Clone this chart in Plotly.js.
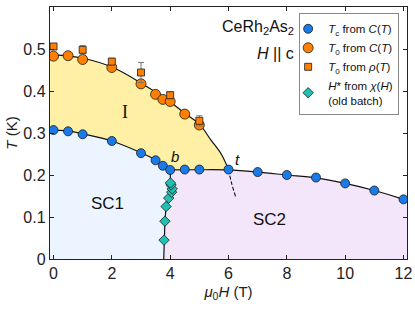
<!DOCTYPE html>
<html><head><meta charset="utf-8">
<script src="https://cdn.plot.ly/plotly-3.0.1.min.js"></script>
<style>html,body{margin:0;padding:0;background:#fff}#plot{width:415px;height:312px}</style>
</head><body><div id="plot"></div>
<script>
// ---- data ----
const tcH = [0, 0.5, 1, 2, 3, 3.5, 3.75, 4, 4.5, 5, 6, 7, 8, 9, 10, 11, 12];
const tcT = [0.307, 0.304, 0.297, 0.281, 0.252, 0.235, 0.222, 0.212, 0.213, 0.213, 0.213, 0.207, 0.200, 0.194, 0.180, 0.163, 0.142];

const t0cH = [0, 0.5, 1, 2, 3, 3.5, 3.75, 4, 4.5, 5];
const t0cT = [0.483, 0.484, 0.475, 0.456, 0.417, 0.392, 0.380, 0.375, 0.345, 0.319];

const t0rH = [0, 1, 2, 3, 4, 5];
const t0rT = [0.506, 0.498, 0.470, 0.444, 0.390, 0.329];
const t0rErr = [0.006, 0.010, 0.008, 0.024, 0.008, 0.012];

const hsH = [3.79, 3.82, 3.86, 3.95, 4.05, 4.07, 4.03, 4.01];
const hsT = [0.045, 0.090, 0.125, 0.145, 0.159, 0.167, 0.176, 0.181];

// guide lines
const t0LineH = [-0.2, 0, 1, 2, 3, 4, 4.5, 5, 5.4, 5.75, 6];
const t0LineT = [0.486, 0.486, 0.478, 0.457, 0.419, 0.374, 0.347, 0.321, 0.283, 0.250, 0.213];
const tcLeftH = [-0.2, 0, 0.5, 1, 2, 3, 3.5, 3.75, 4];
const tcLeftT = [0.307, 0.307, 0.305, 0.298, 0.281, 0.253, 0.236, 0.224, 0.212];
const tcRightH = [4, 5, 6, 7, 8, 9, 10, 11, 12, 12.2];
const tcRightT = [0.212, 0.2125, 0.212, 0.207, 0.200, 0.193, 0.180, 0.163, 0.142, 0.137];
const bndH = [3.78, 3.79, 3.82, 3.86, 3.95, 4.05, 4.07, 4.03, 4.01, 4.0];
const bndT = [0, 0.045, 0.090, 0.125, 0.145, 0.159, 0.167, 0.176, 0.181, 0.212];
const wedgeH = [3.78, 3.79, 3.82, 3.86, 3.95, 4.0, 4.0];
const wedgeT = [0, 0.045, 0.090, 0.125, 0.145, 0.150, 0];
const dashH = [6.0, 6.1, 6.24];
const dashT = [0.213, 0.182, 0.149];

// ---- styles ----
const YEL = '#FFF0A6', BLU = '#ECF5FF', PUR = '#F3E6FB';
const cBlue = '#1a7ae8', cOrange = '#ff8000', cTeal = '#22c0b4', edge = '#1a1a1a';
const fillBase = {mode: 'lines', hoverinfo: 'skip', showlegend: false};
const lineBase = {mode: 'lines', hoverinfo: 'skip', showlegend: false};

const traces = [
  Object.assign({x: t0LineH, y: t0LineT, fill: 'tozeroy', fillcolor: YEL, line: {width: 0, shape: 'spline'}}, fillBase),
  Object.assign({x: tcRightH, y: tcRightT, fill: 'tozeroy', fillcolor: PUR, line: {width: 0, shape: 'spline'}}, fillBase),
  Object.assign({x: tcLeftH, y: tcLeftT, fill: 'tozeroy', fillcolor: BLU, line: {width: 0, shape: 'spline'}}, fillBase),
  Object.assign({x: bndH, y: bndT, fill: 'tozerox', fillcolor: BLU, line: {width: 0}}, fillBase),
  Object.assign({x: wedgeH, y: wedgeT, fill: 'toself', fillcolor: PUR, line: {width: 0}}, fillBase),
  Object.assign({x: t0LineH, y: t0LineT, line: {color: '#111', width: 1.2, shape: 'spline'}}, lineBase),
  Object.assign({x: tcLeftH, y: tcLeftT, line: {color: '#111', width: 1.2, shape: 'spline'}}, lineBase),
  Object.assign({x: tcRightH, y: tcRightT, line: {color: '#111', width: 1.2, shape: 'spline'}}, lineBase),
  Object.assign({x: bndH, y: bndT, line: {color: '#111', width: 1.2}}, lineBase),
  Object.assign({x: dashH, y: dashT, line: {color: '#111', width: 1.1, dash: '4px,2px', shape: 'spline'}}, lineBase),
  {x: tcH, y: tcT, mode: 'markers', name: '<i>T</i><sub>c</sub> from <i>C</i>(<i>T</i>)',
   marker: {symbol: 'circle', size: 9, color: cBlue, line: {color: edge, width: 0.8}}, hoverinfo: 'skip'},
  {x: t0cH, y: t0cT, mode: 'markers', name: '<i>T</i><sub>0</sub> from <i>C</i>(<i>T</i>)',
   marker: {symbol: 'circle', size: 10, color: cOrange, line: {color: edge, width: 0.8}}, hoverinfo: 'skip'},
  {x: t0rH, y: t0rT, mode: 'markers', name: '<i>T</i><sub>0</sub> from <i>ρ</i>(<i>T</i>)',
   error_y: {type: 'data', array: t0rErr, visible: true, color: '#777', thickness: 1, width: 3},
   marker: {symbol: 'square', size: 7, color: cOrange, line: {color: edge, width: 0.8}}, hoverinfo: 'skip'},
  {x: hsH, y: hsT, mode: 'markers', name: '<i>H</i>* from <i>χ</i>(<i>H</i>)<br>(old batch)',
   marker: {symbol: 'diamond', size: 8, color: cTeal, line: {color: edge, width: 0.8}}, hoverinfo: 'skip'}
];

const FONT = 'Liberation Sans, Arial, sans-serif';
const layout = {
  width: 415, height: 312,
  margin: {l: 50, r: 8, t: 7, b: 53},
  paper_bgcolor: '#fff', plot_bgcolor: '#fff',
  font: {family: FONT, size: 16, color: '#222'},
  showlegend: true,
  legend: {x: 0.978, y: 0.975, xanchor: 'right', yanchor: 'top', bgcolor: '#fff',
           bordercolor: '#888', borderwidth: 1, font: {size: 11.5, color: '#111'},
           traceorder: 'normal', tracegroupgap: 0, itemwidth: 30, indentation: -12},
  xaxis: {range: [-0.12, 12.12], tickvals: [0, 2, 4, 6, 8, 10, 12], ticks: 'inside', ticklen: 4,
          showline: true, mirror: 'ticks', linecolor: '#222', linewidth: 1.2, tickcolor: '#222',
          showgrid: false, zeroline: false, fixedrange: true,
          title: {text: '<i>μ</i><sub>0</sub><i>H</i> (T)', font: {size: 15}, standoff: 5}},
  yaxis: {range: [0, 0.6], tickvals: [0, 0.1, 0.2, 0.3, 0.4, 0.5, 0.6], ticktext: ['0', '0.1', '0.2', '0.3', '0.4', '0.5', '0.6'],
          ticks: 'inside', ticklen: 4,
          showline: true, mirror: 'ticks', linecolor: '#222', linewidth: 1.2, tickcolor: '#222',
          showgrid: false, zeroline: false, fixedrange: true,
          title: {text: '<i>T</i> (K)', font: {size: 15}, standoff: 2}},
  annotations: [
    {x: 2.44, y: 0.351, xref: 'x', yref: 'y', text: 'I', showarrow: false, font: {family: 'Liberation Serif, Times New Roman, serif', size: 18, color: '#111'}},
    {x: 1.84, y: 0.132, xref: 'x', yref: 'y', text: 'SC1', showarrow: false, font: {size: 17, color: '#111'}},
    {x: 7.4, y: 0.095, xref: 'x', yref: 'y', text: 'SC2', showarrow: false, font: {size: 17, color: '#111'}},
    {x: 4.16, y: 0.244, xref: 'x', yref: 'y', text: '<i>b</i>', showarrow: false, font: {size: 15, color: '#111'}},
    {x: 6.3, y: 0.236, xref: 'x', yref: 'y', text: '<i>t</i>', showarrow: false, font: {size: 15, color: '#111'}},
    {x: 0.69, y: 0.92, xref: 'paper', yref: 'paper', xanchor: 'right', yanchor: 'middle', text: 'CeRh<sub>2</sub>As<sub>2</sub>', showarrow: false, font: {size: 16, color: '#111'}},
    {x: 0.69, y: 0.815, xref: 'paper', yref: 'paper', xanchor: 'right', yanchor: 'middle', text: '<i>H</i> || c', showarrow: false, font: {size: 16, color: '#111'}}
  ]
};
Plotly.newPlot('plot', traces, layout, {displayModeBar: false, staticPlot: true});
</script></body></html>
